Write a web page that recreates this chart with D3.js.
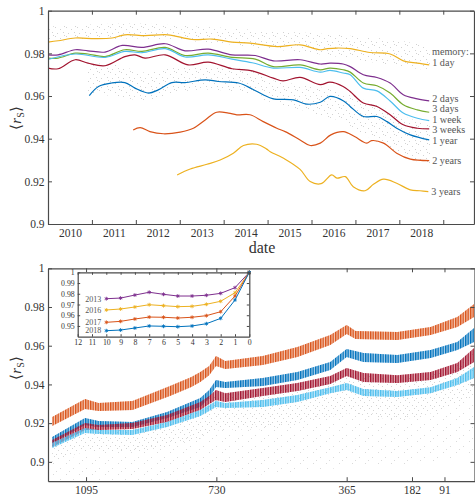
<!DOCTYPE html>
<html><head><meta charset="utf-8">
<script src="https://cdn.jsdelivr.net/npm/d3@7"></script>
<style>body{margin:0;background:#fff} svg{display:block}</style>
</head><body>
<svg id="c" width="475" height="498"></svg>
<script>
// ---------------- DATA ----------------
const yearTicks = [2010,2011,2012,2013,2014,2015,2016,2017,2018,2019];
const yearLabels = [2010,2011,2012,2013,2014,2015,2016,2017,2018];
const topYTicks = [0.9,0.92,0.94,0.96,0.98,1];
const memoryLabels = ["1 day","2 days","3 days","1 week","3 weeks","1 year","2 years","3 years"];

const mem1day = [[2010.00,0.9853],[2010.23,0.9859],[2010.62,0.9872],[2011.07,0.9869],[2011.46,0.9872],[2011.75,0.9887],[2012.21,0.9883],[2012.73,0.9887],[2013.28,0.9865],[2013.74,0.9867],[2014.19,0.9853],[2014.60,0.9848],[2015.22,0.9832],[2015.74,0.9840],[2016.20,0.9817],[2016.36,0.9822],[2016.58,0.9825],[2016.88,0.9822],[2017.33,0.9804],[2017.79,0.9797],[2018.09,0.9765],[2018.41,0.9754],[2018.68,0.9746]];
const mem2days = [[2010.00,0.9793],[2010.23,0.9793],[2010.62,0.9817],[2010.91,0.9812],[2011.30,0.9806],[2011.69,0.9837],[2012.14,0.9828],[2012.67,0.9845],[2013.12,0.9812],[2013.65,0.9820],[2014.19,0.9793],[2014.72,0.9790],[2015.13,0.9765],[2015.74,0.9770],[2016.20,0.9750],[2016.42,0.9754],[2016.72,0.9750],[2016.88,0.9738],[2017.18,0.9700],[2017.49,0.9687],[2017.79,0.9661],[2018.09,0.9606],[2018.41,0.9587],[2018.68,0.9577]];
const mem3days = [[2010.00,0.9778],[2010.23,0.9778],[2010.62,0.9801],[2010.91,0.9797],[2011.30,0.9785],[2011.75,0.9817],[2012.14,0.9809],[2012.67,0.9828],[2013.12,0.9790],[2013.65,0.9801],[2014.19,0.9781],[2014.72,0.9773],[2015.13,0.9738],[2015.74,0.9746],[2016.20,0.9723],[2016.42,0.9731],[2016.72,0.9723],[2016.88,0.9712],[2017.18,0.9661],[2017.49,0.9648],[2017.79,0.9614],[2018.09,0.9559],[2018.41,0.9535],[2018.68,0.9524]];
const mem1week = [[2010.00,0.9771],[2010.62,0.9797],[2011.30,0.9781],[2011.75,0.9809],[2012.14,0.9803],[2012.67,0.9822],[2013.12,0.9783],[2013.65,0.9793],[2014.19,0.9773],[2014.65,0.9756],[2015.13,0.9731],[2015.74,0.9734],[2016.20,0.9712],[2016.42,0.9720],[2016.72,0.9708],[2016.88,0.9700],[2017.18,0.9637],[2017.49,0.9624],[2017.79,0.9577],[2018.09,0.9520],[2018.41,0.9496],[2018.68,0.9485]];
const mem3weeks = [[2010.00,0.9731],[2010.23,0.9728],[2010.62,0.9770],[2010.91,0.9754],[2011.30,0.9742],[2011.75,0.9785],[2011.98,0.9793],[2012.21,0.9778],[2012.67,0.9793],[2013.19,0.9746],[2013.65,0.9759],[2014.19,0.9728],[2014.65,0.9718],[2015.13,0.9684],[2015.35,0.9671],[2015.74,0.9687],[2016.20,0.9653],[2016.42,0.9665],[2016.72,0.9645],[2016.88,0.9621],[2017.18,0.9567],[2017.49,0.9551],[2017.79,0.9512],[2018.09,0.9465],[2018.41,0.9449],[2018.68,0.9446]];
const mem1year = [[2010.94,0.9602],[2011.15,0.9645],[2011.45,0.9661],[2011.75,0.9663],[2011.98,0.9637],[2012.29,0.9614],[2012.51,0.9629],[2012.82,0.9663],[2013.12,0.9663],[2013.58,0.9676],[2013.88,0.9668],[2014.34,0.9661],[2014.65,0.9633],[2014.90,0.9606],[2015.13,0.9587],[2015.59,0.9582],[2015.89,0.9562],[2016.20,0.9571],[2016.42,0.9598],[2016.73,0.9577],[2016.88,0.9551],[2017.18,0.9504],[2017.49,0.9504],[2017.72,0.9480],[2017.94,0.9449],[2018.25,0.9418],[2018.68,0.9394]];
const mem2years = [[2011.94,0.9441],[2012.10,0.9452],[2012.32,0.9433],[2012.63,0.9423],[2013.01,0.9431],[2013.31,0.9449],[2013.58,0.9488],[2013.84,0.9524],[2014.11,0.9520],[2014.30,0.9512],[2014.60,0.9512],[2014.90,0.9480],[2015.21,0.9449],[2015.40,0.9433],[2015.74,0.9394],[2015.97,0.9368],[2016.20,0.9379],[2016.44,0.9418],[2016.73,0.9433],[2016.98,0.9410],[2017.26,0.9379],[2017.37,0.9391],[2017.64,0.9379],[2017.94,0.9332],[2018.25,0.9304],[2018.68,0.9297]];
const mem3years = [[2012.94,0.9230],[2013.24,0.9258],[2013.62,0.9280],[2013.92,0.9300],[2014.22,0.9332],[2014.45,0.9368],[2014.75,0.9374],[2014.98,0.9351],[2015.06,0.9339],[2015.40,0.9304],[2015.74,0.9256],[2015.97,0.9199],[2016.22,0.9189],[2016.46,0.9230],[2016.58,0.9215],[2016.77,0.9222],[2016.95,0.9175],[2017.22,0.9156],[2017.41,0.9186],[2017.64,0.9210],[2017.94,0.9191],[2018.25,0.9160],[2018.47,0.9156],[2018.66,0.9152]];

// gray daily-value clouds (year, low, high envelopes)
const topCloudA = [[2010.0,0.9855,0.9925],[2011.0,0.9860,0.9935],[2012.0,0.9870,0.9940],[2013.0,0.9860,0.9930],[2014.0,0.9845,0.9920],[2015.0,0.9820,0.9905],[2016.0,0.9800,0.9895],[2017.0,0.9770,0.9880],[2018.0,0.9740,0.9860],[2018.7,0.9720,0.9830]];
const topCloudB = [[2010.9,0.961,0.975],[2011.5,0.960,0.975],[2012.2,0.958,0.971],[2012.8,0.961,0.973],[2013.5,0.963,0.974],[2014.3,0.962,0.973],[2014.9,0.960,0.971]];
const topCloudC = [[2014.9,0.958,0.968],[2015.5,0.955,0.966],[2016.2,0.951,0.964],[2016.7,0.948,0.962],[2017.2,0.942,0.958],[2017.8,0.935,0.953],[2018.3,0.930,0.949],[2018.7,0.928,0.947]];

// bottom chart: days before, with weekly low/high envelopes
const dayTicks = [1095,730,365,182,91];
const botYTicks = [0.9,0.92,0.94,0.96,0.98,1];
const bandOrange = [[1190,0.9185,0.9232],[1098,0.9273,0.9325],[1060,0.9263,0.9304],[965,0.9268,0.9314],[860,0.9340,0.9392],[800,0.9387,0.9438],[775,0.9412,0.9464],[750,0.9448,0.9495],[731,0.9495,0.9547],[705,0.9480,0.9521],[600,0.9500,0.9547],[503,0.9542,0.9593],[411,0.9604,0.9655],[365,0.9660,0.9707],[340,0.9635,0.9676],[223,0.9630,0.9671],[130,0.9655,0.9697],[55,0.9697,0.9748],[8,0.9748,0.9815]];
const bandBlue = [[1190,0.9097,0.9128],[1098,0.9190,0.9226],[1060,0.9180,0.9211],[965,0.9180,0.9206],[868,0.9226,0.9257],[775,0.9283,0.9330],[750,0.9330,0.9371],[731,0.9387,0.9423],[705,0.9381,0.9412],[600,0.9392,0.9433],[503,0.9423,0.9464],[411,0.9474,0.9516],[365,0.9542,0.9583],[318,0.9516,0.9562],[223,0.9511,0.9552],[130,0.9536,0.9578],[55,0.9578,0.9619],[8,0.9619,0.9691]];
const bandRed = [[1190,0.9077,0.9113],[1098,0.9164,0.9201],[1060,0.9164,0.9190],[965,0.9170,0.9201],[868,0.9206,0.9242],[775,0.9268,0.9309],[750,0.9299,0.9340],[731,0.9319,0.9371],[705,0.9309,0.9355],[600,0.9340,0.9381],[503,0.9366,0.9407],[411,0.9402,0.9443],[365,0.9443,0.9485],[318,0.9412,0.9459],[223,0.9407,0.9448],[130,0.9423,0.9464],[55,0.9464,0.9511],[8,0.9516,0.9588]];
const bandLight = [[1190,0.9071,0.9097],[1098,0.9149,0.9175],[1060,0.9144,0.9164],[965,0.9139,0.9164],[868,0.9180,0.9206],[775,0.9237,0.9268],[750,0.9263,0.9294],[731,0.9283,0.9314],[705,0.9278,0.9304],[600,0.9283,0.9319],[503,0.9309,0.9345],[411,0.9355,0.9386],[365,0.9371,0.9407],[318,0.9340,0.9376],[223,0.9335,0.9366],[130,0.9355,0.9386],[55,0.9397,0.9433],[8,0.9433,0.9490]];
const botCloudDense = [[1190,0.900,0.913],[1098,0.905,0.920],[965,0.905,0.920],[868,0.908,0.924],[775,0.912,0.930],[731,0.916,0.935],[600,0.917,0.936],[503,0.920,0.939],[411,0.923,0.942],[365,0.925,0.945],[223,0.922,0.943],[130,0.925,0.945],[55,0.930,0.950],[8,0.935,0.957]];
const botCloudSparse = [[1190,0.889,0.900],[731,0.892,0.916],[365,0.897,0.925],[130,0.900,0.925],[8,0.904,0.935]];

// inset
const insetDays = [10,9,8,7,6,5,4,3,2,1,0];
const insetTicksX = [12,11,10,9,8,7,6,5,4,3,2,1,0];
const insetTicksY = [0.95,0.96,0.97,0.98,0.99,1];
const insetYears = ["2013","2016","2017","2018"];
const in2013 = [0.9754,0.9760,0.9788,0.9814,0.9795,0.9779,0.9779,0.9786,0.9804,0.9857,1.0];
const in2016 = [0.9649,0.9658,0.9677,0.9698,0.9689,0.9680,0.9683,0.9702,0.9730,0.9810,1.0];
const in2017 = [0.9534,0.9543,0.9565,0.9583,0.9581,0.9574,0.9581,0.9596,0.9633,0.9779,1.0];
const in2018 = [0.9456,0.9462,0.9481,0.9500,0.9497,0.9493,0.9500,0.9521,0.9571,0.9742,1.0];

// ---------------- STYLE ----------------
const C = {yellow:"#EDB120", purple:"#7E2F8E", green:"#77AC30", light:"#4DBEEE", red:"#A2142F", blue:"#0072BD", orange:"#D95319"};
const memColors = [C.yellow,C.purple,C.green,C.light,C.red,C.blue,C.orange,C.yellow];
const labelNudge = [-2,-2.5,-3,-0.5,1.2,1.2,0,0];
const FONT = "'Liberation Serif','Times New Roman',serif";
const axisCol = "#4a4a4a";

const svg = d3.select("#c");
const defs = svg.append("defs");

function dotPattern(id, w, h, pts, col){
  const p = defs.append("pattern").attr("id",id).attr("patternUnits","userSpaceOnUse").attr("width",w).attr("height",h);
  pts.forEach(q=>p.append("rect").attr("x",q[0]).attr("y",q[1]).attr("width",1).attr("height",1).attr("fill",col));
}
dotPattern("dotsT",11,9,[[0,0],[5,2],[8,5],[2,6],[9,8]],"#d2d2d2");
dotPattern("dotsD",9,8,[[0,0],[4,2],[7,5],[2,6]],"#d4d4d4");
dotPattern("dotsS",13,11,[[1,1],[8,6],[4,9]],"#dadada");
function stripePattern(id,col){
  const p = defs.append("pattern").attr("id",id).attr("patternUnits","userSpaceOnUse").attr("width",2.5).attr("height",4);
  p.append("rect").attr("x",0).attr("y",0).attr("width",1.4).attr("height",4).attr("fill",col);
}

function styleAxis(g, fs){
  g.attr("font-family",FONT).attr("font-size",fs).attr("color",axisCol);
  g.selectAll(".domain").attr("stroke-width",1.3);
  g.selectAll("text").attr("fill","#333");
}

// ---------------- TOP CHART ----------------
const T = {l:48, r:474, t:10.7, b:224};
const xT = d3.scaleLinear().domain([2010,2019.7]).range([T.l,T.r]);
const yT = d3.scaleLinear().domain([0.9,1]).range([T.b,T.t]);
defs.append("clipPath").attr("id","clipT").append("rect").attr("x",T.l).attr("y",T.t).attr("width",T.r-T.l).attr("height",T.b-T.t);
const gT = svg.append("g").attr("clip-path","url(#clipT)");

const areaT = d3.area().x(d=>xT(d[0])).y0(d=>yT(d[1])).y1(d=>yT(d[2])).curve(d3.curveCatmullRom.alpha(0.5));
[topCloudA,topCloudB,topCloudC].forEach(c=>gT.append("path").attr("d",areaT(c)).attr("fill","url(#dotsT)"));

const lineT = d3.line().x(d=>xT(d[0])).y(d=>yT(d[1])).curve(d3.curveCatmullRom.alpha(0.5));
const topSeries = [mem1day,mem2days,mem3days,mem1week,mem3weeks,mem1year,mem2years,mem3years];
topSeries.forEach((s,i)=>gT.append("path").attr("d",lineT(s)).attr("fill","none").attr("stroke",memColors[i]).attr("stroke-width",1.2));

// axes
let g;
g = svg.append("g").attr("transform",`translate(0,${T.b})`).call(d3.axisBottom(xT).tickValues(yearTicks).tickSize(-4).tickSizeOuter(0).tickFormat(""));
styleAxis(g,11.5);
g = svg.append("g").attr("transform",`translate(0,${T.b})`).call(d3.axisBottom(xT).tickValues(yearLabels.map(v=>v+0.5)).tickSize(0).tickPadding(5).tickFormat(d=>String(Math.floor(d))));
styleAxis(g,11.5); g.select(".domain").remove();
g = svg.append("g").attr("transform",`translate(0,${T.t})`).call(d3.axisTop(xT).tickValues(yearTicks).tickSize(-4).tickSizeOuter(0).tickFormat(""));
styleAxis(g,11.5);
g = svg.append("g").attr("transform",`translate(${T.l},0)`).call(d3.axisLeft(yT).tickValues(topYTicks).tickSize(-4).tickSizeOuter(0).tickPadding(3.5).tickFormat(d3.format("~g")));
styleAxis(g,11.5);
g = svg.append("g").attr("transform",`translate(${T.r},0)`).call(d3.axisRight(yT).tickValues(topYTicks).tickSize(-4).tickSizeOuter(0).tickFormat(""));
styleAxis(g,11.5);

// legend labels at line ends
svg.append("text").attr("x",432).attr("y",55).attr("font-family",FONT).attr("font-size",10.2).attr("fill","#555").text("memory:");
topSeries.forEach((s,i)=>{
  const last = s[s.length-1];
  svg.append("text").attr("x",xT(last[0])+3).attr("y",yT(last[1])+labelNudge[i]).attr("dy","0.32em")
    .attr("font-family",FONT).attr("font-size",10.2).attr("fill","#555").text(memoryLabels[i]);
});
svg.append("text").attr("x",262).attr("y",253).attr("text-anchor","middle").attr("font-family",FONT).attr("font-size",16).attr("fill","#333").text("date");

function yLabel(x,y){
  const t = svg.append("text").attr("transform",`translate(${x},${y}) rotate(-90)`).attr("text-anchor","middle")
    .attr("font-family",FONT).attr("font-size",15).attr("fill","#333");
  t.append("tspan").text("\u27E8");
  t.append("tspan").attr("font-style","italic").text("r");
  t.append("tspan").attr("font-size",10).attr("dy",3).text("S");
  t.append("tspan").attr("dy",-3).text("\u27E9");
}
yLabel(21,118);

// ---------------- BOTTOM CHART ----------------
const B = {l:48, r:474.5, t:268.3, b:481.2};
const xB = d3.scaleLinear().domain([1201.6,6.9]).range([B.l,B.r]);
const yB = d3.scaleLinear().domain([0.89,1]).range([B.b,B.t]);
defs.append("clipPath").attr("id","clipB").append("rect").attr("x",B.l).attr("y",B.t).attr("width",B.r-B.l).attr("height",B.b-B.t);
const gB = svg.append("g").attr("clip-path","url(#clipB)");
const areaB = d3.area().x(d=>xB(d[0])).y0(d=>yB(d[1])).y1(d=>yB(d[2]));
gB.append("path").attr("d",areaB.curve(d3.curveCatmullRom.alpha(0.5))(botCloudSparse)).attr("fill","url(#dotsS)");
gB.append("path").attr("d",areaB(botCloudDense)).attr("fill","url(#dotsD)");
areaB.curve(d3.curveLinear);
const bands = [[bandOrange,C.orange],[bandBlue,C.blue],[bandRed,C.red],[bandLight,C.light]];
bands.forEach((b,i)=>{
  stripePattern("stripe"+i,b[1]);
  gB.append("path").attr("d",areaB(b[0])).attr("fill",b[1]).attr("fill-opacity",0.3);
  gB.append("path").attr("d",areaB(b[0])).attr("fill",`url(#stripe${i})`);
});

g = svg.append("g").attr("transform",`translate(0,${B.b})`).call(d3.axisBottom(xB).tickValues(dayTicks).tickSize(-4).tickSizeOuter(0).tickPadding(4.5).tickFormat(d3.format("d")));
styleAxis(g,11.5);
g = svg.append("g").attr("transform",`translate(0,${B.t})`).call(d3.axisTop(xB).tickValues(dayTicks).tickSize(-4).tickSizeOuter(0).tickFormat(""));
styleAxis(g,11.5);
g = svg.append("g").attr("transform",`translate(${B.l},0)`).call(d3.axisLeft(yB).tickValues(botYTicks).tickSize(-4).tickSizeOuter(0).tickPadding(3.5).tickFormat(d3.format("~g")));
styleAxis(g,11.5);
g = svg.append("g").attr("transform",`translate(${B.r},0)`).call(d3.axisRight(yB).tickValues(botYTicks).tickSize(-4).tickSizeOuter(0).tickFormat(""));
styleAxis(g,11.5);
yLabel(21,368);

// ---------------- INSET ----------------
const I = {l:77.7, r:249.3, t:272.3, b:336.7};
const xI = d3.scaleLinear().domain([12,0]).range([I.l,I.r]);
const yI = d3.scaleLinear().domain([0.94,1]).range([I.b,I.t]);
svg.append("rect").attr("x",I.l).attr("y",I.t).attr("width",I.r-I.l).attr("height",I.b-I.t).attr("fill","#fff");
const insetSeries = [[in2013,C.purple],[in2016,C.yellow],[in2017,C.orange],[in2018,C.blue]];
const lineI = d3.line().x((d,i)=>xI(insetDays[i])).y(d=>yI(d));
const sym = d3.symbol().type(d3.symbolAsterisk || d3.symbolCross).size(10);
insetSeries.forEach((s,k)=>{
  svg.append("path").attr("d",lineI(s[0])).attr("fill","none").attr("stroke",s[1]).attr("stroke-width",1);
  s[0].forEach((v,i)=>svg.append("path").attr("d",sym()).attr("transform",`translate(${xI(insetDays[i])},${yI(v)})`)
    .attr("fill",s[1]).attr("stroke",s[1]).attr("stroke-width",0.9));
  svg.append("text").attr("x",xI(insetDays[0])-5).attr("y",yI(s[0][0])).attr("dy","0.35em").attr("text-anchor","end")
    .attr("font-family",FONT).attr("font-size",8).attr("fill","#555").text(insetYears[k]);
});
g = svg.append("g").attr("transform",`translate(0,${I.b})`).call(d3.axisBottom(xI).tickValues(insetTicksX).tickSize(-2.5).tickSizeOuter(0).tickPadding(3).tickFormat(d3.format("d")));
styleAxis(g,7.8);
g = svg.append("g").attr("transform",`translate(0,${I.t})`).call(d3.axisTop(xI).tickValues(insetTicksX).tickSize(-2.5).tickSizeOuter(0).tickFormat(""));
styleAxis(g,7.8);
g = svg.append("g").attr("transform",`translate(${I.l},0)`).call(d3.axisLeft(yI).tickValues(insetTicksY).tickSize(-2.5).tickSizeOuter(0).tickPadding(3).tickFormat(d3.format("~g")));
styleAxis(g,7.8);
g = svg.append("g").attr("transform",`translate(${I.r},0)`).call(d3.axisRight(yI).tickValues(insetTicksY).tickSize(-2.5).tickSizeOuter(0).tickFormat(""));
styleAxis(g,7.8);
svg.selectAll("g .domain").attr("stroke-width",1.2);
</script>
</body></html>
